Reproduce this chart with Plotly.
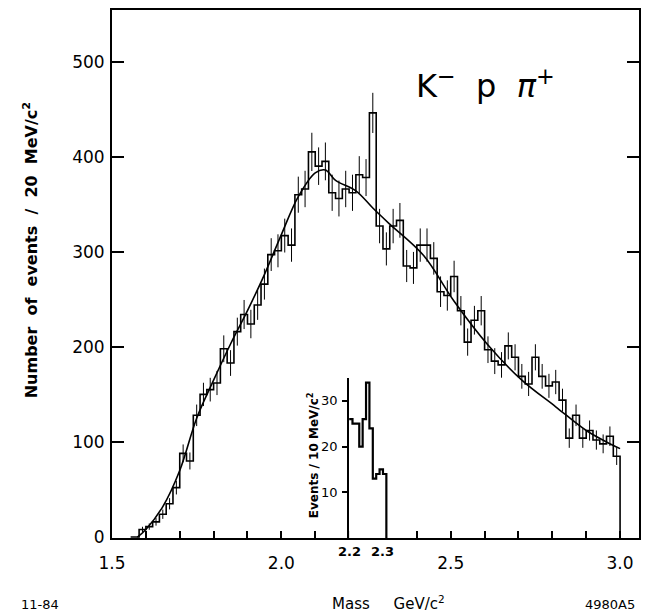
import plotly.graph_objects as go

# ---------------- data ----------------
# main histogram: 20 MeV bins, left edges start at 1.58 GeV
bin_lo = [round(1.58 + 0.02 * i, 2) for i in range(71)]
counts = [8, 11, 16, 24, 35, 52, 88, 80, 128, 150,
          155, 162, 198, 183, 216, 234, 224, 244, 266, 297,
          301, 317, 307, 360, 366, 405, 390, 395, 362, 356,
          366, 362, 381, 378, 446, 327, 303, 327, 333, 285,
          283, 307, 307, 293, 258, 254, 274, 238, 205, 228,
          238, 197, 185, 181, 201, 189, 169, 161, 189, 169,
          159, 163, 144, 104, 128, 104, 112, 102, 98, 106, 85]

# smooth fitted curve (knots)
curve_mass = [1.575, 1.60, 1.65, 1.70, 1.75, 1.80, 1.85, 1.90, 1.95, 2.00,
              2.05, 2.10, 2.13, 2.16, 2.22, 2.27, 2.32, 2.42, 2.51, 2.61,
              2.71, 2.81, 2.90, 2.96, 3.00]
curve_val = [0, 8, 32, 70, 125, 165, 203, 238, 276, 318,
             358, 383, 386, 375, 364, 346, 329, 296, 248, 202,
             165, 137, 112, 100, 93]

# inset: 10 MeV bins starting at 2.20 GeV
inset_lo = [2.20, 2.21, 2.22, 2.23, 2.24, 2.25, 2.26, 2.27, 2.28, 2.29, 2.30]
inset_counts = [26, 25, 25, 20, 26, 34, 24, 13, 14, 15, 14]

y_ticks = [0, 100, 200, 300, 400, 500]
x_ticks = [1.5, 1.6, 1.7, 1.8, 1.9, 2.0, 2.1, 2.2, 2.3, 2.4, 2.5, 2.6, 2.7, 2.8, 2.9, 3.0]
x_labels = ["1.5", "", "", "", "", "2.0", "", "", "", "", "2.5", "", "", "", "", "3.0"]
inset_ticks = [10, 20, 30]
inset_xlabels = ["2.2", "2.3"]
inset_xpos = [2.2, 2.3]

# ---------------- geometry ----------------
L, R, T, B = 112, 7, 10, 77
PW = 648 - L - R
PH = 615 - T - B
PX_PER_GEV = 340.0
PX_PER_EVT = 0.951


def xp(px):
    return (px - L) / PW


def yp(py):
    return (615 - B - py) / PH


font_main = "DejaVu Sans"
W = 0.02
edges = bin_lo + [round(bin_lo[-1] + W, 2)]
NB = "\u00a0"

fig = go.Figure()

# main histogram outline (hv steps)
sx = [1.555] + edges
sy = [0] + counts + [0]
fig.add_trace(go.Scatter(x=sx, y=sy, mode="lines", line_shape="hv",
                         line=dict(color="black", width=1.6), hoverinfo="skip",
                         xaxis="x", yaxis="y"))

# statistical error bars
centers = [b + W / 2 for b in bin_lo]
fig.add_trace(go.Scatter(x=centers, y=counts, mode="markers",
                         marker=dict(size=1, color="rgba(0,0,0,0)"),
                         error_y=dict(type="sqrt", color="black", thickness=1.0, width=0),
                         hoverinfo="skip", xaxis="x", yaxis="y"))

# fitted curve
fig.add_trace(go.Scatter(x=curve_mass, y=curve_val, mode="lines", line_shape="spline",
                         line=dict(color="black", width=1.6), hoverinfo="skip",
                         xaxis="x", yaxis="y"))

# inset histogram
iw = 0.01
ix = inset_lo + [round(inset_lo[-1] + iw, 3)]
iy = inset_counts + [0]
fig.add_trace(go.Scatter(x=ix, y=iy, mode="lines", line_shape="hv",
                         line=dict(color="black", width=2.2), hoverinfo="skip",
                         xaxis="x2", yaxis="y2", cliponaxis=False))

inset_x0 = L + (2.2 - 1.5) * PX_PER_GEV
inset_x1 = L + (2.34 - 1.5) * PX_PER_GEV

fig.update_layout(
    width=648, height=615,
    margin=dict(l=L, r=R, t=T, b=B),
    paper_bgcolor="white", plot_bgcolor="white",
    showlegend=False,
    font=dict(family=font_main, color="black", size=16),
    xaxis=dict(domain=[0, 1], range=[1.5, 1.5 + PW / PX_PER_GEV],
               tickvals=x_ticks, ticktext=x_labels,
               ticks="inside", ticklen=7, tickwidth=1.5, tickcolor="black",
               showline=True, linewidth=2, linecolor="black", mirror=True,
               showgrid=False, zeroline=False, ticklabelstandoff=9,
               tickfont=dict(size=17), anchor="y"),
    yaxis=dict(domain=[0, 1], range=[-1, -1 + PH / PX_PER_EVT], tickvals=y_ticks,
               ticks="inside", ticklen=12, tickwidth=1.5, tickcolor="black",
               showline=True, linewidth=2, linecolor="black", mirror="ticks",
               showgrid=False, zeroline=False, ticklabelstandoff=2,
               tickfont=dict(size=17), anchor="x"),
    xaxis2=dict(domain=[xp(inset_x0), xp(inset_x1)], range=[2.2, 2.34],
                visible=False, anchor="y2", fixedrange=True),
    yaxis2=dict(domain=[0, yp(378)], range=[0, 35], anchor="x2", side="left",
                tickvals=inset_ticks,
                ticks="outside", ticklen=5, tickwidth=1.5, tickcolor="black",
                showline=True, linewidth=2, linecolor="black",
                showgrid=False, zeroline=False,
                tickfont=dict(size=13), ticklabelstandoff=2),
)

ann = []


def add_text(text, px, py, size, angle=0):
    ann.append(dict(text=text, x=xp(px), y=yp(py), xref="paper", yref="paper",
                    xanchor="center", yanchor="middle", showarrow=False,
                    textangle=angle, font=dict(size=size, family=font_main, color="black")))


add_text("K<sup>−</sup>" + NB * 2 + "p" + NB * 2 + "<i>π</i><sup>+</sup>", 487, 84, 32)
ytitle = (NB * 2).join(["Number", "of", "events", "/", "20", "MeV/c<sup>2</sup>"])
add_text("<b>" + ytitle + "</b>", 30, 250, 16, -90)
add_text("<b>Events / 10 MeV/c<sup>2</sup></b>", 314, 455, 12, -90)
for lab, m in zip(inset_xlabels, inset_xpos):
    add_text("<b>" + lab + "</b>", L + (m - 1.5) * PX_PER_GEV, 551, 13)
add_text("11-84", 40, 604, 13)
add_text("Mass" + NB * 5 + "GeV/c<sup>2</sup>", 390, 603, 15)
add_text("4980A5", 612, 604, 13)
fig.update_layout(annotations=ann)

fig.write_html("out.html")
